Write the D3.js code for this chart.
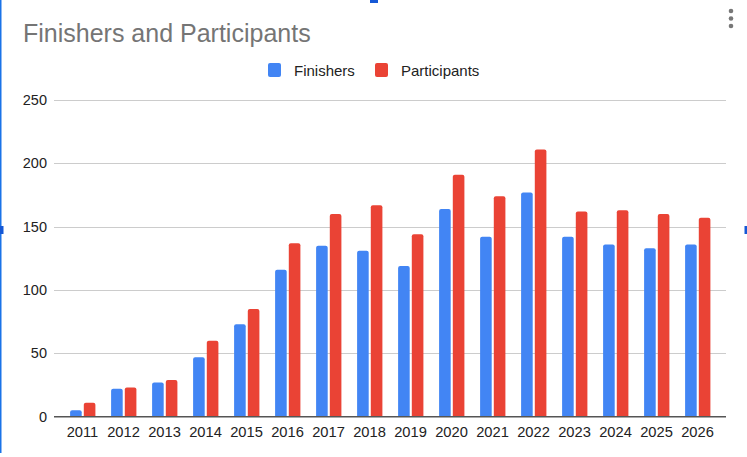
<!DOCTYPE html>
<html>
<head>
<meta charset="utf-8">
<script src="https://cdn.jsdelivr.net/npm/d3@7"></script>
<style>
  html, body { margin: 0; padding: 0; background: #fff; }
  svg { display: block; font-family: Arial, "Liberation Sans", sans-serif; }
</style>
</head>
<body>
<svg id="chart" width="747" height="457"></svg>
<script>
const years = ['2011', '2012', '2013', '2014', '2015', '2016', '2017', '2018',
  '2019', '2020', '2021', '2022', '2023', '2024', '2025', '2026'];
const finishers = [5, 22, 27, 47, 73, 116, 135, 131, 119, 164, 142, 177, 142, 136, 133, 136];
const participants = [11, 23, 29, 60, 85, 137, 160, 167, 144, 191, 174, 211, 162, 163, 160, 157];
const yTicks = [0, 50, 100, 150, 200, 250];
const seriesNames = ['Finishers', 'Participants'];
const colors = ['#4285f4', '#ea4335'];

const svg = d3.select('#chart');
const width = +svg.attr('width');
const height = +svg.attr('height');

const gridLeft = 54, gridRight = 726;

const x = d3.scaleBand()
  .domain(years)
  .range([62, 718]);

const y = d3.scaleLinear()
  .domain([0, 250])
  .range([416.7, 100]);

// gridlines
svg.append('g')
  .selectAll('line')
  .data(yTicks.filter(d => d > 0))
  .enter()
    .append('line')
    .attr('x1', gridLeft)
    .attr('x2', gridRight)
    .attr('y1', d => Math.round(y(d)) + 0.5)
    .attr('y2', d => Math.round(y(d)) + 0.5)
    .attr('stroke', '#cccccc')
    .attr('stroke-width', 1);

// y labels
svg.append('g')
  .selectAll('text')
  .data(yTicks)
  .enter()
    .append('text')
    .attr('x', 47)
    .attr('y', d => y(d) + 5)
    .attr('text-anchor', 'end')
    .attr('font-size', 14.5)
    .attr('fill', '#222')
    .text(d => d);

// bars with rounded tops
function barPath(x0, w, yTop, yBase) {
  const r = Math.min(2, (yBase - yTop) / 2);
  return `M${x0},${yBase}V${yTop + r}Q${x0},${yTop} ${x0 + r},${yTop}` +
    `H${x0 + w - r}Q${x0 + w},${yTop} ${x0 + w},${yTop + r}V${yBase}Z`;
}

const barW = 11.6;
const rows = years.map((yr, i) => [
  { yr, s: 0, v: finishers[i] },
  { yr, s: 1, v: participants[i] }
]).flat();

svg.append('g')
  .selectAll('path')
  .data(rows)
  .enter()
    .append('path')
    .attr('d', d => {
      const c = x(d.yr) + x.bandwidth() / 2;
      const x0 = d.s === 0 ? c - 12.4 : c + 1.3;
      return barPath(x0, barW, y(d.v), y(0));
    })
    .attr('fill', d => colors[d.s]);

// baseline
svg.append('line')
  .attr('x1', gridLeft)
  .attr('x2', gridRight)
  .attr('y1', y(0))
  .attr('y2', y(0))
  .attr('stroke', '#555')
  .attr('stroke-width', 1.6);

// x labels
svg.append('g')
  .selectAll('text')
  .data(years)
  .enter()
    .append('text')
    .attr('x', d => x(d) + x.bandwidth() / 2)
    .attr('y', 437.3)
    .attr('text-anchor', 'middle')
    .attr('font-size', 14.7)
    .attr('fill', '#222')
    .text(d => d);

// title
svg.append('text')
  .attr('x', 23)
  .attr('y', 42)
  .attr('font-size', 25)
  .attr('fill', '#757575')
  .text('Finishers and Participants');

// legend
const legendX = [268, 375];
const legend = svg.append('g')
  .selectAll('g')
  .data(seriesNames)
  .enter()
    .append('g')
    .attr('transform', (d, i) => `translate(${legendX[i]},63)`);

legend.append('rect')
  .attr('width', 13)
  .attr('height', 14)
  .attr('rx', 2)
  .attr('fill', (d, i) => colors[i]);

legend.append('text')
  .attr('x', 26)
  .attr('y', 13)
  .attr('font-size', 15)
  .attr('fill', '#222')
  .text(d => d);

// menu dots
svg.append('g')
  .selectAll('circle')
  .data([11, 18.5, 26])
  .enter()
    .append('circle')
    .attr('cx', 731)
    .attr('cy', d => d)
    .attr('r', 2.3)
    .attr('fill', '#777');

// selection frame bits
const blue = '#1a73e8';
svg.append('rect').attr('x', 0).attr('y', 0).attr('width', 1.5).attr('height', 453).attr('fill', blue);
svg.append('rect').attr('x', 0).attr('y', 226).attr('width', 3.5).attr('height', 8).attr('fill', '#1558d6');
svg.append('rect').attr('x', 744.5).attr('y', 226).attr('width', 3).attr('height', 8).attr('fill', '#1558d6');
svg.append('rect').attr('x', 370).attr('y', 0).attr('width', 8).attr('height', 3).attr('fill', '#1558d6');
</script>
</body>
</html>
